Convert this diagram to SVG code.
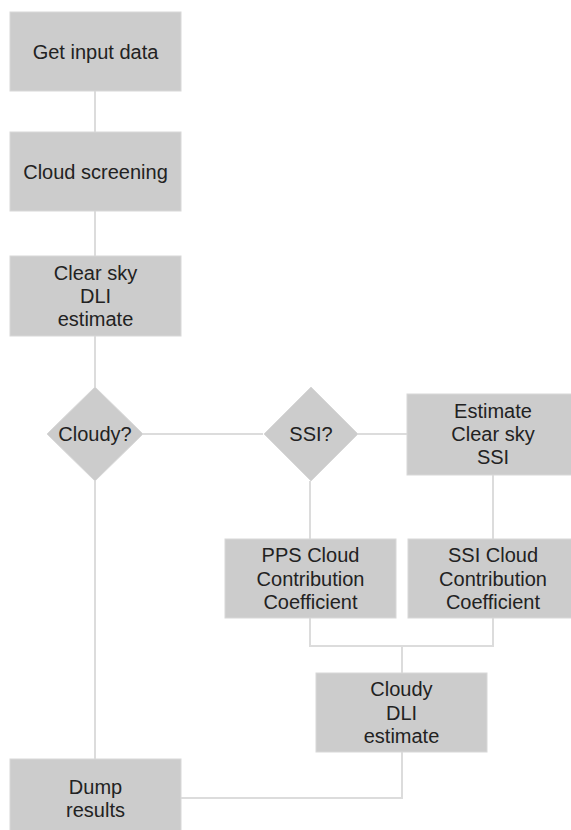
<svg xmlns="http://www.w3.org/2000/svg" width="571" height="830" viewBox="0 0 571 830">
<style>
.n{fill:#cccccc;stroke:#d8d8d8;stroke-width:1}
.t{font-family:"Liberation Sans",Arial,sans-serif;font-size:20px;fill:#222;text-anchor:middle}
.c{fill:none;stroke:#dcdcdc;stroke-width:2}
</style>
<rect width="571" height="830" fill="#ffffff"/>
<g id="connectors">
<path class="c" d="M95,91V132"/>
<path class="c" d="M95,211V256"/>
<path class="c" d="M95,336V388"/>
<path class="c" d="M143,434H263"/>
<path class="c" d="M358,434H407"/>
<path class="c" d="M95,481V759"/>
<path class="c" d="M310,481V539"/>
<path class="c" d="M493,475V539"/>
<path class="c" d="M310,618V646H493V618"/>
<path class="c" d="M402,646V673"/>
<path class="c" d="M402,752V798H181"/>
</g>
<g id="get-input">
<rect class="n" x="10" y="12" width="171" height="79"/>
<text class="t" x="95.5" y="58.5">Get input data</text>
</g>
<g id="cloud-screening">
<rect class="n" x="10" y="132" width="171" height="79"/>
<text class="t" x="95.5" y="178.5">Cloud screening</text>
</g>
<g id="clear-sky-dli">
<rect class="n" x="10" y="256" width="171" height="80"/>
<text class="t" x="95.5" y="279.7">Clear sky</text>
<text class="t" x="95.5" y="303">DLI</text>
<text class="t" x="95.5" y="326.3">estimate</text>
</g>
<g id="cloudy-q">
<polygon class="n" points="95,387 143,434 95,481 47,434"/>
<text class="t" x="95" y="441">Cloudy?</text>
</g>
<g id="ssi-q">
<polygon class="n" points="311,387 358,434 311,481 264,434"/>
<text class="t" x="311" y="441">SSI?</text>
</g>
<g id="estimate-clear-sky-ssi">
<rect class="n" x="407" y="394" width="172" height="81"/>
<text class="t" x="493" y="417.7">Estimate</text>
<text class="t" x="493" y="441">Clear sky</text>
<text class="t" x="493" y="464.3">SSI</text>
</g>
<g id="pps-ccc">
<rect class="n" x="225" y="539" width="171" height="79"/>
<text class="t" x="310.5" y="562.2">PPS Cloud</text>
<text class="t" x="310.5" y="585.5">Contribution</text>
<text class="t" x="310.5" y="608.8">Coefficient</text>
</g>
<g id="ssi-ccc">
<rect class="n" x="408" y="539" width="171" height="79"/>
<text class="t" x="493" y="562.2">SSI Cloud</text>
<text class="t" x="493" y="585.5">Contribution</text>
<text class="t" x="493" y="608.8">Coefficient</text>
</g>
<g id="cloudy-dli">
<rect class="n" x="316" y="673" width="171" height="79"/>
<text class="t" x="401.5" y="696.2">Cloudy</text>
<text class="t" x="401.5" y="719.5">DLI</text>
<text class="t" x="401.5" y="742.8">estimate</text>
</g>
<g id="dump-results">
<rect class="n" x="10" y="759" width="171" height="80"/>
<text class="t" x="95.5" y="793.8">Dump</text>
<text class="t" x="95.5" y="817.1">results</text>
</g>
</svg>
